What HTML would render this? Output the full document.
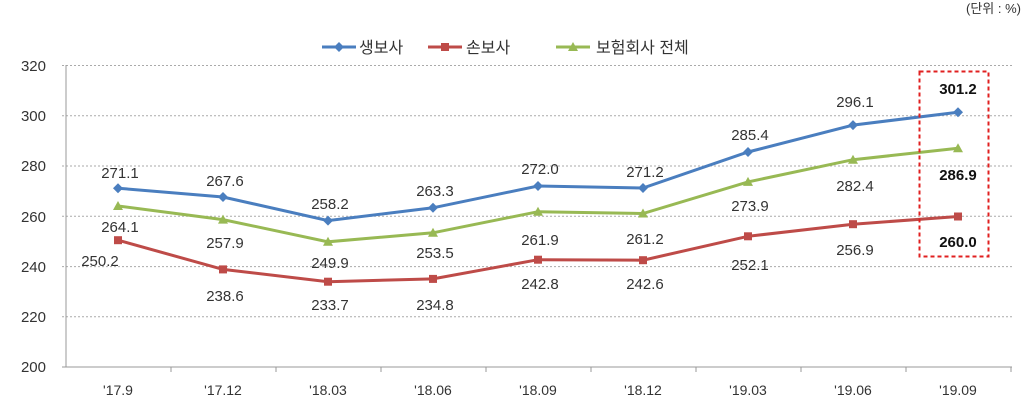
<!DOCTYPE html>
<html><head><meta charset="utf-8"><style>body{margin:0;background:#fff}svg{display:block}text{font-family:"Liberation Sans","Noto Sans CJK KR",sans-serif}</style></head><body>
<svg width="1025" height="407" xmlns="http://www.w3.org/2000/svg">
<text x="1021" y="13" font-size="13" text-anchor="end" fill="#333">(단위 : %)</text>
<g stroke="#aaa" stroke-dasharray="2,2" stroke-width="1">
<line x1="62" y1="65.5" x2="1012" y2="65.5"/><line x1="62" y1="115.8" x2="1012" y2="115.8"/><line x1="62" y1="166" x2="1012" y2="166"/><line x1="62" y1="216.3" x2="1012" y2="216.3"/><line x1="62" y1="266.6" x2="1012" y2="266.6"/><line x1="62" y1="316.8" x2="1012" y2="316.8"/>
</g>
<g stroke="#999" stroke-width="1"><line x1="66" y1="65" x2="66" y2="367"/><line x1="62" y1="367" x2="1012" y2="367"/>
<line x1="171" y1="367" x2="171" y2="372"/><line x1="276" y1="367" x2="276" y2="372"/><line x1="381" y1="367" x2="381" y2="372"/><line x1="486" y1="367" x2="486" y2="372"/><line x1="591" y1="367" x2="591" y2="372"/><line x1="696" y1="367" x2="696" y2="372"/><line x1="801" y1="367" x2="801" y2="372"/><line x1="906" y1="367" x2="906" y2="372"/><line x1="1011" y1="367" x2="1011" y2="372"/></g>
<g font-size="15" fill="#333" text-anchor="end"><text x="46" y="71">320</text><text x="46" y="121">300</text><text x="46" y="171">280</text><text x="46" y="222">260</text><text x="46" y="272">240</text><text x="46" y="322">220</text><text x="46" y="372">200</text></g>
<g font-size="14" fill="#333" text-anchor="middle"><text x="118" y="395">'17.9</text><text x="223" y="395">'17.12</text><text x="328" y="395">'18.03</text><text x="433" y="395">'18.06</text><text x="538" y="395">'18.09</text><text x="643" y="395">'18.12</text><text x="748" y="395">'19.03</text><text x="853" y="395">'19.06</text><text x="958" y="395">'19.09</text></g>
<g font-size="16" fill="#333">
<line x1="322" y1="47" x2="356" y2="47" stroke="#4a7ebf" stroke-width="3"/><polygon points="339,42 344,47 339,52 334,47" fill="#4a7ebf"/><text x="359" y="53">생보사</text>
<line x1="428" y1="47" x2="462" y2="47" stroke="#be4b48" stroke-width="3"/><rect x="441" y="43" width="8" height="8" fill="#be4b48"/><text x="466" y="53">손보사</text>
<line x1="556" y1="47" x2="590" y2="47" stroke="#98b954" stroke-width="3"/><polygon points="573,42 578,51 568,51" fill="#98b954"/><text x="596" y="53">보험회사 전체</text>
</g>
<polyline fill="none" stroke="#4a7ebf" stroke-width="3" points="118,188.2 223,197 328,220.6 433,207.8 538,186 643,188 748,152 853,125.1 958,112.2"/>
<polyline fill="none" stroke="#98b954" stroke-width="3" points="118,206 223,219.6 328,241.8 433,232.8 538,211.7 643,213.5 748,181.9 853,159.7 958,148.3"/>
<polyline fill="none" stroke="#be4b48" stroke-width="3" points="118,240.2 223,269.4 328,281.7 433,278.9 538,259.7 643,260.2 748,236.3 853,224.2 958,216.5"/>
<g fill="#4a7ebf"><polygon points="118,183.2 123,188.2 118,193.2 113,188.2"/><polygon points="223,192 228,197 223,202 218,197"/><polygon points="328,215.6 333,220.6 328,225.6 323,220.6"/><polygon points="433,202.8 438,207.8 433,212.8 428,207.8"/><polygon points="538,181 543,186 538,191 533,186"/><polygon points="643,183 648,188 643,193 638,188"/><polygon points="748,147 753,152 748,157 743,152"/><polygon points="853,120.1 858,125.1 853,130.1 848,125.1"/><polygon points="958,107.2 963,112.2 958,117.2 953,112.2"/></g>
<g fill="#98b954"><polygon points="118,201 123,210 113,210"/><polygon points="223,214.6 228,223.6 218,223.6"/><polygon points="328,236.8 333,245.8 323,245.8"/><polygon points="433,227.8 438,236.8 428,236.8"/><polygon points="538,206.7 543,215.7 533,215.7"/><polygon points="643,208.5 648,217.5 638,217.5"/><polygon points="748,176.9 753,185.9 743,185.9"/><polygon points="853,154.7 858,163.7 848,163.7"/><polygon points="958,143.3 963,152.3 953,152.3"/></g>
<g fill="#be4b48"><rect x="114" y="236.2" width="8" height="8"/><rect x="219" y="265.4" width="8" height="8"/><rect x="324" y="277.7" width="8" height="8"/><rect x="429" y="274.9" width="8" height="8"/><rect x="534" y="255.7" width="8" height="8"/><rect x="639" y="256.2" width="8" height="8"/><rect x="744" y="232.3" width="8" height="8"/><rect x="849" y="220.2" width="8" height="8"/><rect x="954" y="212.5" width="8" height="8"/></g>
<g font-size="15" fill="#333" text-anchor="middle">
<text x="120" y="178">271.1</text><text x="225" y="186">267.6</text><text x="330" y="209">258.2</text><text x="435" y="196">263.3</text><text x="540" y="174">272.0</text><text x="645" y="177">271.2</text><text x="750" y="140">285.4</text><text x="855" y="107">296.1</text>
<text x="120" y="232">264.1</text><text x="225" y="248">257.9</text><text x="330" y="268">249.9</text><text x="435" y="258">253.5</text><text x="540" y="245">261.9</text><text x="645" y="244">261.2</text><text x="750" y="211">273.9</text><text x="855" y="191">282.4</text>
<text x="100" y="266">250.2</text><text x="225" y="301">238.6</text><text x="330" y="310">233.7</text><text x="435" y="310">234.8</text><text x="540" y="289">242.8</text><text x="645" y="289">242.6</text><text x="750" y="270">252.1</text><text x="855" y="255">256.9</text>
</g>
<g font-size="15" fill="#111" font-weight="bold" text-anchor="middle"><text x="958" y="94">301.2</text><text x="958" y="180">286.9</text><text x="958" y="247">260.0</text></g>
<rect x="919.5" y="71.5" width="69" height="185" fill="none" stroke="#e02020" stroke-width="2" stroke-dasharray="4,3"/>
</svg>
</body></html>
